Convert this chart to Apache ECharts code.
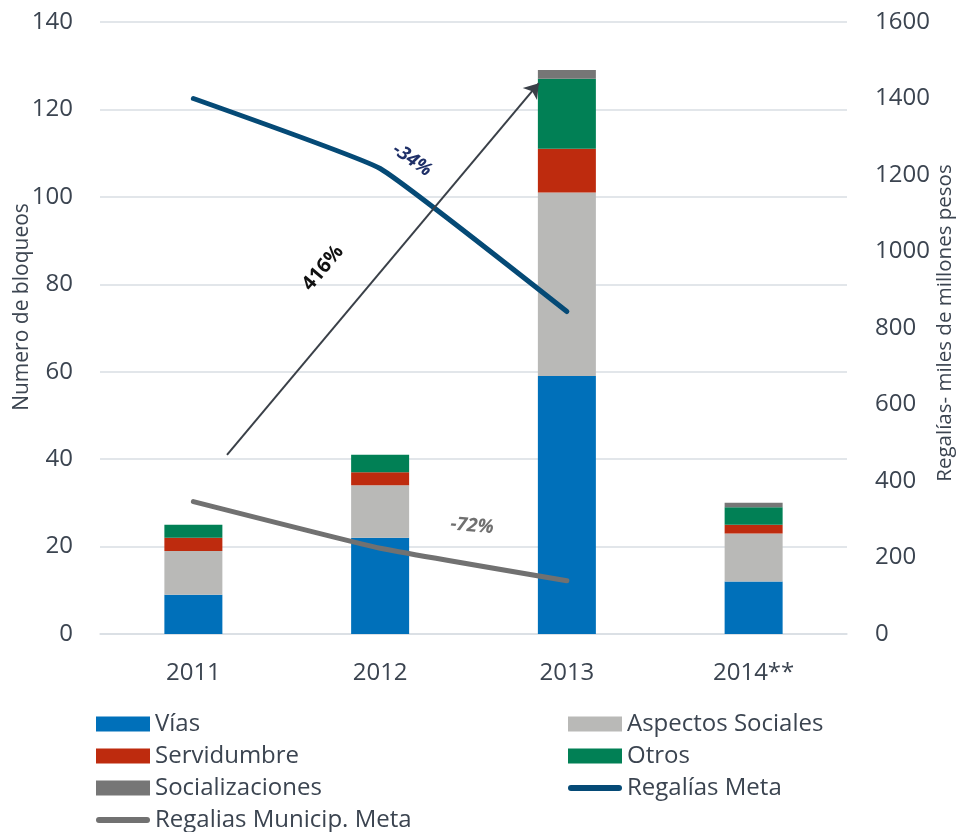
<!DOCTYPE html>
<html>
<head>
<meta charset="utf-8">
<script src="https://cdn.jsdelivr.net/npm/echarts@6/dist/echarts.min.js"></script>
<style>
  html, body { margin: 0; padding: 0; background: #fff; }
  #chart { width: 957px; height: 832px; }
</style>
</head>
<body>
<div id="chart"></div>
<script>
// categories
var years = ['2011', '2012', '2013', '2014**']

// bloqueos (left axis), stacked
var vias = [9, 22, 59, 12]
var aspectosSociales = [10, 12, 42, 11]
var servidumbre = [3, 3, 10, 2]
var otros = [3, 4, 16, 4]
var socializaciones = [0, 0, 2, 1]

// regalias (right axis)
var regaliasMeta = [1400, 1217, 843, null]
var regaliasMunicip = [346, 224, 139, null]

// arrow annotation, in (category index, bloqueos) space
var arrowFrom = [0.18, 41]
var arrowTo = [1.85, 126]

var leftTicks = { min: 0, max: 140, interval: 20 }
var rightTicks = { min: 0, max: 1600, interval: 200 }

var textColor = '#3B4450'
var font = 'Open Sans'
var lineIcon = 'path://M3,0H51A3,3 0 0 1 51,6H3A3,3 0 0 1 3,0Z'

var chart = echarts.init(document.getElementById('chart'), null, { renderer: 'canvas' })

function barSeries (name, data, color) {
  return {
    name: name,
    type: 'bar',
    stack: 'bloqueos',
    barWidth: 58,
    data: data,
    itemStyle: { color: color },
    emphasis: { disabled: true }
  }
}

function lineSeries (name, data, color) {
  return {
    name: name,
    type: 'line',
    yAxisIndex: 1,
    data: data,
    smooth: 0.1,
    symbol: 'none',
    lineStyle: { color: color, width: 5, cap: 'round' },
    itemStyle: { color: color },
    z: 5
  }
}

var legendBase = {
  orient: 'vertical',
  top: 712,
  padding: 0,
  height: 200,
  itemWidth: 54,
  itemHeight: 15,
  itemGap: 8,
  icon: 'rect',
  textStyle: { fontSize: 24, lineHeight: 24, color: textColor, fontFamily: font }
}

var option = {
  animation: false,
  backgroundColor: '#fff',
  grid: { left: 100, right: 110, top: 22, bottom: 198, outerBoundsMode: 'none' },
  legend: [
    Object.assign({}, legendBase, {
      left: 96,
      data: ['Vías', 'Servidumbre', 'Socializaciones', { name: 'Regalias Municip. Meta', icon: lineIcon }]
    }),
    Object.assign({}, legendBase, {
      left: 568,
      data: ['Aspectos Sociales', 'Otros', { name: 'Regalías Meta', icon: lineIcon }]
    })
  ],
  xAxis: [
    {
      type: 'category',
      data: years,
      axisTick: { show: false },
      axisLine: { show: true, lineStyle: { color: '#D9DEE3', width: 1.5 } },
      axisLabel: { fontSize: 24, color: textColor, fontFamily: font, margin: 27 }
    },
    {
      type: 'value',
      min: -0.5,
      max: 3.5,
      show: false
    }
  ],
  yAxis: [
    {
      type: 'value',
      min: leftTicks.min,
      max: leftTicks.max,
      interval: leftTicks.interval,
      name: 'Numero de bloqueos',
      nameLocation: 'middle',
      nameGap: 67,
      nameMoveOverlap: false,
      nameTextStyle: { fontSize: 21, color: textColor, fontFamily: font, padding: [0, 0, 0, 42] },
      axisLine: { show: false },
      axisTick: { show: false },
      axisLabel: { fontSize: 24, color: textColor, fontFamily: font, margin: 27 },
      splitLine: { lineStyle: { color: '#D9DEE3', width: 1.5 } }
    },
    {
      type: 'value',
      min: rightTicks.min,
      max: rightTicks.max,
      interval: rightTicks.interval,
      position: 'right',
      name: 'Regalías- miles de millones pesos',
      nameLocation: 'middle',
      nameGap: 88,
      nameMoveOverlap: false,
      nameRotate: 90,
      nameTextStyle: { fontSize: 20.5, color: textColor, fontFamily: font, padding: [0, 0, 0, 10] },
      axisLine: { show: false },
      axisTick: { show: false },
      axisLabel: {
        fontSize: 24, color: textColor, fontFamily: font, margin: 28,
        formatter: function (v) { return String(v) }
      },
      splitLine: { show: false }
    }
  ],
  series: [
    barSeries('Vías', vias, '#0070BA'),
    barSeries('Aspectos Sociales', aspectosSociales, '#B9B9B7'),
    barSeries('Servidumbre', servidumbre, '#BE2B0E'),
    barSeries('Otros', otros, '#018055'),
    barSeries('Socializaciones', socializaciones, '#767676'),
    lineSeries('Regalías Meta', regaliasMeta, '#054A76'),
    lineSeries('Regalias Municip. Meta', regaliasMunicip, '#717171'),
    {
      name: 'arrow',
      type: 'lines',
      coordinateSystem: 'cartesian2d',
      xAxisIndex: 1,
      yAxisIndex: 0,
      symbol: ['none', 'arrow'],
      symbolSize: 14,
      lineStyle: { color: '#3A4048', width: 2, opacity: 1 },
      data: [{ coords: [arrowFrom, arrowTo] }],
      z: 6
    }
  ],
  graphic: [
    {
      type: 'text',
      x: 323, y: 268,
      rotation: 50 * Math.PI / 180,
      style: { text: '416%', fill: '#111', font: 'bold 20px "Open Sans"', align: 'center', verticalAlign: 'middle' },
      z: 10
    },
    {
      type: 'text',
      x: 412, y: 160,
      rotation: -35 * Math.PI / 180,
      style: { text: '-34%', fill: '#1F3068', font: 'italic bold 19px "Open Sans"', align: 'center', verticalAlign: 'middle' },
      z: 10
    },
    {
      type: 'text',
      x: 472, y: 526,
      rotation: -5 * Math.PI / 180,
      style: { text: '-72%', fill: '#707070', font: 'italic bold 19px "Open Sans"', align: 'center', verticalAlign: 'middle' },
      z: 10
    }
  ]
}

chart.setOption(option)
</script>
</body>
</html>
